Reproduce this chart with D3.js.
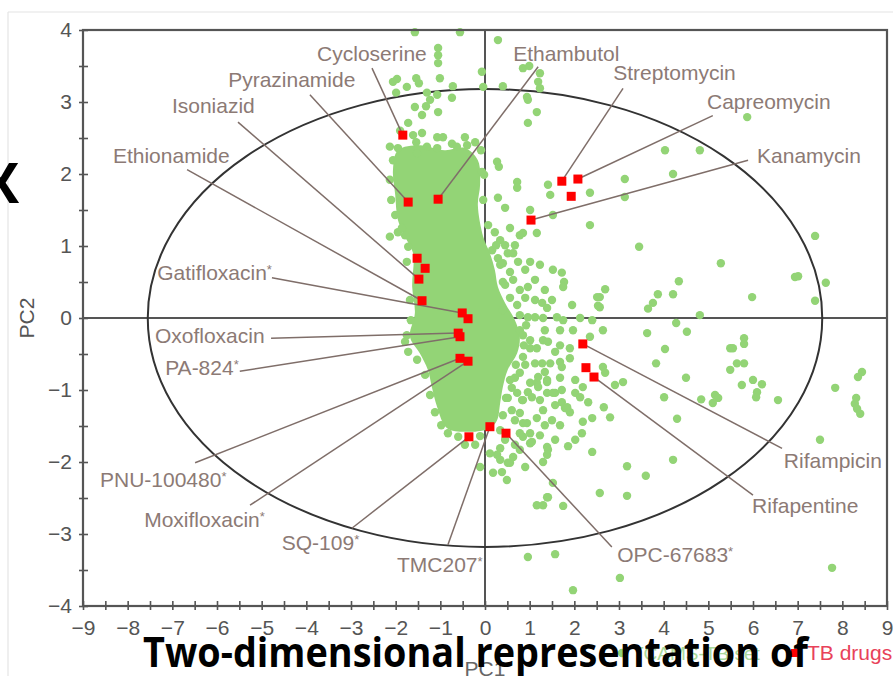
<!DOCTYPE html>
<html>
<head>
<meta charset="utf-8">
<script src="https://cdn.jsdelivr.net/npm/d3@7"></script>
<style>
  html, body { margin: 0; padding: 0; background: #fff; }
  svg { display: block; }
  .tick text { font-family: "Liberation Sans", Arial, sans-serif; font-size: 21px; fill: #555; }
  .tick line { stroke: #555; stroke-width: 1.6; }
  .lbl { font-family: "Liberation Sans", Arial, sans-serif; font-size: 21px; fill: #8c7a75; }
</style>
</head>
<body>
<svg id="chart" width="893" height="676"></svg>
<script>
// --- data (PC1, PC2) ---

// axis ticks
const xTicks = d3.range(-9, 9.01, 1);
const yTicks = d3.range(-4, 4.01, 1);

// saturated (over-plotted) core of the compound cloud, outline in PC units
const coreOutline = [
  [-1.95, 2.33], [-1.46, 2.40], [-0.90, 2.33], [-0.45, 2.36], [-0.16, 2.19],
  [-0.11, 1.85], [-0.16, 1.57], [-0.04, 1.13], [0.11, 0.90], [0.22, 0.67],
  [0.29, 0.43], [0.45, 0.21], [0.67, -0.03], [0.78, -0.26], [0.72, -0.49],
  [0.51, -0.72], [0.40, -0.96], [0.34, -1.18], [0.27, -1.42], [0.11, -1.53],
  [-0.34, -1.58], [-0.85, -1.53], [-1.07, -1.24], [-1.19, -0.96], [-1.28, -0.72],
  [-1.46, -0.49], [-1.68, -0.26], [-1.57, 0.07], [-1.63, 0.43], [-1.61, 0.90],
  [-1.79, 1.13], [-1.95, 1.36], [-2.01, 1.71], [-2.06, 2.06]
];

// individual compounds
const compounds = [
  [-1.57, 3.97], [-0.56, 3.97], [0.29, 3.86], [-1.05, 3.75], [-1.05, 3.65], [-1.05, 3.54],
  [-0.07, 3.42], [0.85, 3.47], [0.99, 3.50], [1.23, 3.40], [-2.06, 3.28], [-1.97, 3.32],
  [-1.75, 3.21], [-1.54, 3.33], [-1.48, 3.26], [-1.01, 3.33], [-0.72, 3.22], [-0.04, 3.21],
  [0.40, 3.22], [1.19, 3.28], [1.23, 3.19], [-1.99, 3.13], [-1.30, 3.13], [-1.23, 3.03],
  [-1.07, 3.10], [-0.74, 3.06], [0.94, 3.07], [0.96, 3.03], [-1.57, 2.93], [-1.32, 2.94],
  [-1.05, 2.86], [1.16, 2.86], [-1.41, 2.82], [-1.72, 2.71], [0.96, 2.71], [-1.90, 2.60],
  [-1.61, 2.54], [-1.41, 2.57], [-1.07, 2.51], [-0.94, 2.51], [-0.45, 2.51], [-0.22, 2.44],
  [-0.74, 2.42], [-0.63, 2.38], [-1.54, 2.44], [-1.30, 2.38], [-1.07, 2.36], [-2.13, 2.38],
  [-1.95, 2.36], [-0.40, 2.40], [-1.52, 2.29], [0.27, 2.17], [0.31, 2.10], [-0.07, 2.03],
  [0.72, 1.89], [0.72, 1.81], [0.29, 1.67], [1.41, 1.85], [1.46, 1.71], [2.35, 1.74],
  [1.01, 1.50], [0.45, 1.53], [5.87, 2.79], [4.03, 2.33], [4.81, 2.33], [4.21, 2.00],
  [3.13, 1.93], [3.13, 1.68], [1.52, 1.43], [2.35, 1.29], [1.16, 1.18], [0.85, 1.18],
  [7.39, 1.14], [3.45, 0.99], [5.28, 0.76], [6.94, 0.57], [7.01, 0.58], [7.63, 0.49],
  [4.34, 0.51], [2.69, 0.40], [3.87, 0.33], [4.21, 0.33], [5.98, 0.29], [7.39, 0.24],
  [3.76, 0.21], [3.65, 0.13], [2.57, 0.29], [2.57, 0.15], [4.81, 0.04], [4.28, -0.07],
  [2.64, -0.17], [4.52, -0.19], [3.63, -0.21], [5.80, -0.28], [5.80, -0.36], [5.49, -0.42],
  [5.55, -0.42], [4.03, -0.43], [3.83, -0.63], [5.64, -0.63], [5.80, -0.63], [5.49, -0.72],
  [2.64, -0.68], [2.69, -0.76], [4.50, -0.83], [6.00, -0.86], [6.20, -0.92], [3.09, -0.89],
  [2.91, -0.93], [5.75, -0.93], [6.09, -1.03], [6.07, -1.10], [8.44, -0.75], [8.35, -0.82],
  [7.84, -0.97], [4.01, -1.10], [5.15, -1.07], [5.22, -1.11], [5.10, -1.18], [4.84, -1.13],
  [6.56, -1.14], [8.31, -1.11], [8.28, -1.19], [8.33, -1.26], [8.40, -1.33], [2.66, -1.24],
  [2.80, -1.38], [4.30, -1.40], [7.50, -1.69], [3.18, -2.06], [3.60, -2.19], [4.21, -1.97],
  [3.18, -2.47], [2.57, -2.43], [7.77, -3.47], [3.02, -3.61], [0.96, -3.32], [1.57, -3.28],
  [1.97, -3.78], [2.40, -1.86], [1.86, -1.78], [1.16, -2.60], [1.30, -2.60], [1.75, -2.61],
  [1.39, -2.49], [1.52, -2.29], [0.49, -2.25], [0.18, -2.15], [0.38, -2.14], [-0.11, -2.07],
  [0.90, -2.07], [1.30, -2.00], [1.39, -1.90], [1.41, -1.83], [1.01, -1.74], [0.51, -2.01],
  [0.63, -1.93], [0.27, -1.90], [0.11, -1.88], [-0.83, -1.60], [-0.60, -1.65], [0.34, -1.97],
  [0.56, -2.01], [1.41, -2.49], [1.16, -1.39], [1.50, -1.42], [1.39, -1.04], [1.57, -1.04],
  [2.02, -1.04], [2.19, -1.44], [2.40, -1.39], [2.17, -1.60], [1.79, -1.25], [1.90, -1.31],
  [2.31, -1.17], [1.05, -1.10], [0.83, -1.14], [1.16, -0.90], [1.39, -0.86], [0.94, -1.46],
  [0.85, -1.65], [1.39, -1.79], [1.05, -1.72],
  [0.56, 1.25], [0.78, 1.15], [-2.13, 1.13], [-1.95, 1.19], [0.16, 0.94], [0.51, 0.90],
  [0.63, 0.90], [1.01, 0.78], [0.40, 0.76], [1.72, 0.63], [1.77, 0.50], [1.75, 0.43],
  [0.96, 0.43], [0.56, 0.64], [0.63, 0.53], [0.78, 0.39], [2.51, 0.29], [2.53, 0.17],
  [1.28, 0.21], [1.39, 0.14], [0.40, 0.11], [0.72, 0.18], [0.96, 0.01], [1.12, 0.01],
  [1.30, 0.00], [1.61, 0.01], [1.75, -0.03], [2.40, -0.03], [1.97, -0.17], [0.78, -0.17],
  [0.85, -0.24], [1.01, -0.42], [1.16, -0.42], [1.30, -0.31], [1.41, -0.33], [1.68, -0.38],
  [1.90, -0.42], [2.35, -0.26], [0.85, -0.54], [1.12, -0.63], [1.28, -0.63], [1.46, -0.63],
  [1.68, -0.61], [1.72, -0.68], [2.19, -0.96], [1.19, -0.82], [1.39, -0.89], [0.78, -0.76],
  [1.01, -0.90], [1.19, -0.96], [0.72, -1.04], [0.85, -1.14], [1.52, -1.04], [2.13, -1.10],
  [1.72, -1.17], [1.84, -1.24], [1.30, -1.28], [0.60, -1.28], [0.78, -1.32], [0.85, -1.46],
  [1.01, -1.60], [0.78, -1.60], [-1.72, -0.47], [-1.79, -0.33], [-1.79, 1.15], [-1.72, 0.99],
  [-2.06, 2.19], [-2.13, 1.92], [-2.10, 1.64], [-2.01, 1.43], [-1.86, 1.25], [-1.75, 0.78],
  [-1.68, 0.25], [-1.66, -0.03], [-1.75, -0.24], [-1.52, -0.58], [-1.34, -0.79], [-1.23, -1.07],
  [-1.12, -1.31], [-0.98, -1.49], [-0.09, 2.33], [-0.02, 1.99], [-0.04, 1.64], [0.07, 1.29],
  [0.25, 1.01], [0.34, 0.74], [0.40, 0.50], [0.56, 0.28], [0.78, 0.04], [0.87, -0.38],
  [0.69, -0.65], [0.56, -0.86], [0.47, -1.11], [0.40, -1.35], [0.34, -1.56], [-0.11, -1.64],
  [0.22, 1.19], [0.34, 1.08], [0.45, 1.01], [0.67, 1.01], [0.29, 0.83], [0.74, 0.78],
  [0.90, 0.67], [0.45, 0.46], [1.12, 0.53], [1.34, 0.39], [1.23, 0.74], [1.52, 0.67],
  [0.90, 0.28], [1.12, 0.25], [1.50, 0.25], [1.95, 0.18], [2.13, 0.00], [0.92, -0.10],
  [1.34, -0.17], [1.68, -0.17], [1.01, -0.31], [1.57, -0.47], [1.90, -0.56], [0.90, -0.65],
  [1.34, -0.75], [0.67, -0.83], [1.68, -0.83], [2.02, -0.86], [0.60, -0.97], [0.96, -1.03],
  [1.72, -1.00], [0.51, -1.11], [1.23, -1.14], [1.57, -1.21], [0.67, -1.42], [1.34, -1.49],
  [1.68, -1.49], [0.45, -1.69], [0.67, -1.76], [1.23, -1.63], [2.02, -1.69], [1.57, -1.69],
  [0.34, -1.81], [0.78, -1.83], [-0.22, -1.76], [-0.45, -1.76]
];

// TB drugs
const drugNames = [
  "Cycloserine", "Pyrazinamide", "Ethambutol", "Isoniazid", "Ethionamide", "", "",
  "Gatifloxacin*", "", "Oxofloxacin", "PA-824*", "PNU-100480*", "Moxifloxacin*",
  "SQ-109*", "TMC207*", "OPC-67683*", "Rifampicin", "", "Rifapentine",
  "Streptomycin", "Capreomycin", "", "Kanamycin"
];
const drugPC1 = [-1.84, -1.72, -1.05, -1.48, -1.41, -1.52, -1.34, -0.51, -0.38, -0.60, -0.56, -0.56, -0.38,
  -0.36, 0.11, 0.47, 2.19, 2.26, 2.44, 1.72, 2.08, 1.93, 1.03];
const drugPC2 = [2.54, 1.61, 1.65, 0.54, 0.24, 0.83, 0.69, 0.07, -0.01, -0.21, -0.26, -0.56, -0.60,
  -1.65, -1.51, -1.60, -0.36, -0.69, -0.82, 1.90, 1.93, 1.69, 1.36];

// 95% ellipse of the chemical space
const ellipseCenter = [0, 0];
const ellipseRadii = [7.55, 3.18];

// label layout: [name, text x, text baseline y, leader start x, leader start y] in PC units
const labelLayout = [
  ["Cycloserine", -3.76, 3.57, -2.53, 3.47],
  ["Pyrazinamide", -5.75, 3.21, -3.92, 3.10],
  ["Ethambutol", 0.63, 3.57, 1.19, 3.49],
  ["Isoniazid", -7.01, 2.85, -5.53, 2.72],
  ["Ethionamide", -8.33, 2.15, -6.67, 2.06],
  ["Streptomycin", 2.87, 3.31, 3.09, 3.19],
  ["Capreomycin", 4.97, 2.90, 5.10, 2.81],
  ["Kanamycin", 6.09, 2.15, 5.89, 2.19],
  ["Gatifloxacin*", -7.34, 0.53, -4.77, 0.56],
  ["Oxofloxacin", -7.39, -0.35, -4.79, -0.28],
  ["PA-824*", -7.16, -0.79, -5.49, -0.74],
  ["PNU-100480*", -8.62, -2.35, -6.49, -2.01],
  ["Moxifloxacin*", -7.63, -2.90, -5.26, -2.60],
  ["SQ-109*", -4.55, -3.22, -2.98, -2.92],
  ["TMC207*", -1.97, -3.53, -0.83, -3.15],
  ["OPC-67683*", 2.96, -3.39, 2.84, -3.18],
  ["Rifampicin", 6.69, -2.08, 6.65, -1.81],
  ["Rifapentine", 5.98, -2.71, 6.00, -2.46]
];

const legendLabels = ["TCAMS-TB set", "TB drugs"];

// --- drawing ---
const svg = d3.select("#chart");
const x = d3.scaleLinear().domain([-9, 9]).range([83, 887]);
const y = d3.scaleLinear().domain([-4, 4]).range([606, 30]);

const green = "#93d476";
const red = "#ff0000";
const lineCol = "#7f6e69";

// slide frame lines (faint)
svg.append("line").attr("x1", 8).attr("x2", 893).attr("y1", 12).attr("y2", 12)
  .attr("stroke", "#e4e4e4").attr("stroke-width", 1.2);
svg.append("line").attr("x1", 8).attr("x2", 8).attr("y1", 12).attr("y2", 676)
  .attr("stroke", "#e4e4e4").attr("stroke-width", 1.2);

// zero lines
svg.append("line").attr("x1", x(0)).attr("x2", x(0)).attr("y1", y(4)).attr("y2", y(-4))
  .attr("stroke", "#555").attr("stroke-width", 2);
svg.append("line").attr("x1", x(-9)).attr("x2", x(9)).attr("y1", y(0)).attr("y2", y(0))
  .attr("stroke", "#555").attr("stroke-width", 2);

// ellipse
svg.append("ellipse")
  .attr("cx", x(ellipseCenter[0])).attr("cy", y(ellipseCenter[1]))
  .attr("rx", x(ellipseRadii[0]) - x(0)).attr("ry", y(0) - y(ellipseRadii[1]))
  .attr("fill", "none").attr("stroke", "#333").attr("stroke-width", 2);

// dense core
svg.append("path")
  .datum(coreOutline)
  .attr("d", d3.line().x(d => x(d[0])).y(d => y(d[1])).curve(d3.curveCatmullRomClosed))
  .attr("fill", green);

// compounds
svg.append("g").selectAll("circle")
  .data(compounds)
  .join("circle")
  .attr("cx", d => x(d[0])).attr("cy", d => y(d[1]))
  .attr("r", 4.2)
  .attr("fill", green);

// leader lines
const drugs = drugNames.map((n, i) => ({ name: n, pc1: drugPC1[i], pc2: drugPC2[i] }));
const byName = new Map(drugs.filter(d => d.name).map(d => [d.name, d]));

svg.append("g").selectAll("line")
  .data(labelLayout)
  .join("line")
  .attr("x1", d => x(d[3])).attr("y1", d => y(d[4]))
  .attr("x2", d => x(byName.get(d[0]).pc1)).attr("y2", d => y(byName.get(d[0]).pc2))
  .attr("stroke", lineCol).attr("stroke-width", 1.5);

// drug squares
svg.append("g").selectAll("rect")
  .data(drugs)
  .join("rect")
  .attr("x", d => x(d.pc1) - 4.5).attr("y", d => y(d.pc2) - 4.5)
  .attr("width", 9).attr("height", 9)
  .attr("fill", red);

// drug labels (asterisk raised and small)
const lbl = svg.append("g").selectAll("text")
  .data(labelLayout)
  .join("text")
  .attr("class", "lbl")
  .attr("x", d => x(d[1])).attr("y", d => y(d[2]));
lbl.append("tspan").text(d => d[0].replace("*", ""));
lbl.filter(d => d[0].endsWith("*")).append("tspan")
  .attr("dy", -6).style("font-size", "13px").text("*");

// axes
const fmt = d3.format("");
const yAxis = d3.axisLeft(y)
  .tickValues(d3.range(-4, 4.01, 0.5))
  .tickSize(4).tickPadding(7)
  .tickFormat(d => Number.isInteger(d) ? fmt(d) : "");
const gy = svg.append("g").attr("transform", `translate(${x(-9)},0)`).call(yAxis);
gy.selectAll(".tick line").attr("x1", 5);
gy.select(".domain").remove();

const xAxis = d3.axisBottom(x)
  .tickValues(d3.range(-9, 9.01, 0.5))
  .tickSize(4).tickPadding(10)
  .tickFormat(d => Number.isInteger(d) ? fmt(d) : "");
const gx = svg.append("g").attr("transform", `translate(0,${y(-4)})`).call(xAxis);
gx.selectAll(".tick line").attr("y1", -5);
gx.select(".domain").remove();

// plot frame
svg.append("rect")
  .attr("x", x(-9)).attr("y", y(4))
  .attr("width", x(9) - x(-9)).attr("height", y(-4) - y(4))
  .attr("fill", "none").attr("stroke", "#555").attr("stroke-width", 2.2);

// axis titles
svg.append("text")
  .attr("transform", `translate(34,${y(0)}) rotate(-90)`)
  .attr("text-anchor", "middle")
  .style("font-family", "Liberation Sans, Arial, sans-serif").style("font-size", "21px")
  .attr("fill", "#555").text("PC2");
svg.append("text")
  .attr("x", x(0)).attr("y", 676).attr("text-anchor", "middle")
  .style("font-family", "Liberation Sans, Arial, sans-serif").style("font-size", "21px")
  .attr("fill", "#666").text("PC1");

// legend
svg.append("circle").attr("cx", 622).attr("cy", 653).attr("r", 4.2).attr("fill", green);
svg.append("text").attr("x", 632).attr("y", 660)
  .style("font-family", "Liberation Sans, Arial, sans-serif").style("font-size", "19px")
  .attr("fill", "#a9d99a").text(legendLabels[0]);
svg.append("rect").attr("x", 791).attr("y", 649).attr("width", 8).attr("height", 8).attr("fill", red);
svg.append("text").attr("x", 807).attr("y", 660)
  .style("font-family", "Liberation Sans, Arial, sans-serif").style("font-size", "21px")
  .attr("fill", "#e8425a").text(legendLabels[1]);

// slide overlay text
svg.append("text")
  .attr("x", 19).attr("y", 203).attr("text-anchor", "end")
  .style("font-family", "'Open Sans', 'Noto Sans', sans-serif").style("font-weight", 700)
  .style("font-size", "56px").attr("fill", "#000").text("X");
svg.append("text")
  .attr("x", 143).attr("y", 667)
  .attr("textLength", 665).attr("lengthAdjust", "spacingAndGlyphs")
  .style("font-family", "'Open Sans', 'Noto Sans', sans-serif").style("font-weight", 700)
  .style("font-size", "42px").attr("fill", "#000").text("Two-dimensional representation of");
</script>
</body>
</html>
